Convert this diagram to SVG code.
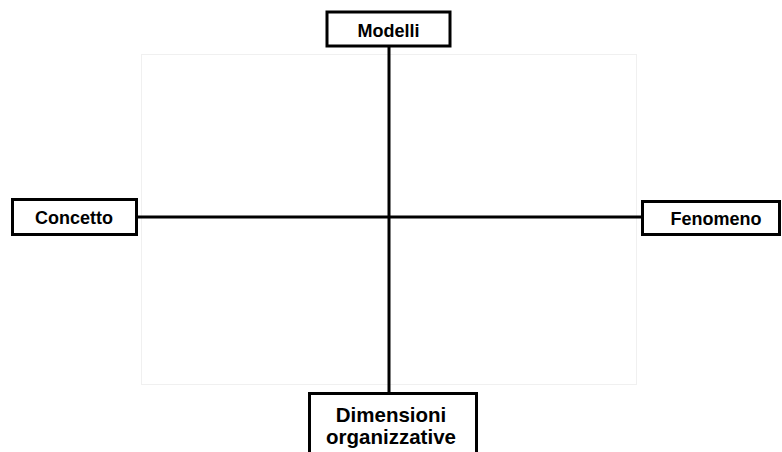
<svg xmlns="http://www.w3.org/2000/svg" width="782" height="452" viewBox="0 0 782 452">
<style>
.box{fill:#fff;stroke:#000;stroke-width:3}
.lbl{font-family:"Liberation Sans",Arial,sans-serif;font-weight:bold;font-size:18px;fill:#000;text-anchor:middle}
.big{font-size:20.5px}
.conn{stroke:#000;stroke-width:3;fill:none}
</style>
<rect width="782" height="452" fill="#fff"/>
<rect x="141.5" y="54.5" width="495" height="330" fill="#fff" stroke="#f0f0f0" stroke-width="1"/>
<g id="connectors">
<line class="conn" x1="389" y1="46" x2="389" y2="393"/>
<line class="conn" x1="137" y1="217" x2="642" y2="217"/>
</g>
<g id="modelli">
<rect class="box" x="327" y="12" width="123" height="34"/>
<text class="lbl" x="388.5" y="37">Modelli</text>
</g>
<g id="concetto">
<rect class="box" x="12.5" y="199.5" width="124" height="35"/>
<text class="lbl" x="74" y="223.5">Concetto</text>
</g>
<g id="fenomeno">
<rect class="box" x="642.5" y="201.5" width="137" height="33"/>
<text class="lbl" x="716" y="225">Fenomeno</text>
</g>
<g id="dimensioni">
<rect class="box" x="309.5" y="393.5" width="167" height="62"/>
<text class="lbl big" x="391" y="422">Dimensioni</text>
<text class="lbl big" x="391" y="444">organizzative</text>
</g>
</svg>
